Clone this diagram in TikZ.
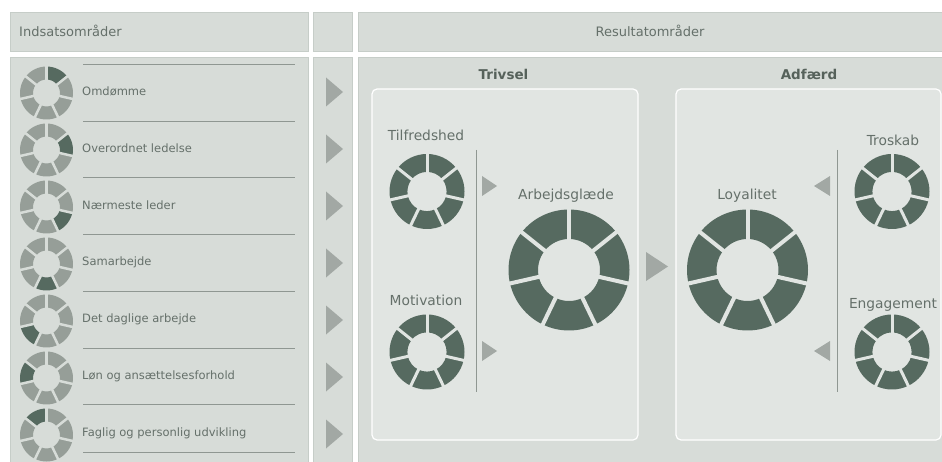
\documentclass[tikz,border=0pt]{standalone}
\usepackage{fontspec}
\setmainfont{DejaVu Sans}

\definecolor{boxfill}{HTML}{D7DCD8}
\definecolor{boxline}{HTML}{C6CDC8}
\definecolor{panelfill}{HTML}{E1E5E2}
\definecolor{ringdark}{HTML}{566A60}
\definecolor{ringlight}{HTML}{969E98}
\definecolor{arrowgray}{HTML}{A2A8A4}
\definecolor{rulegray}{HTML}{8F9792}
\definecolor{textgray}{HTML}{65706A}
\definecolor{titlegray}{HTML}{56625B}

% ring of 7 segments: centre, outer r, inner r, dark segment (0 = all), gap colour, gap width
\newcommand{\segring}[6]{%
	\foreach \i in {1,...,7}{
		\pgfmathsetmacro{\aa}{90-(\i-1)*360/7}
		\pgfmathsetmacro{\ab}{90-\i*360/7}
		\ifnum#4=0 \def\segcol{ringdark}\else\ifnum\i=#4 \def\segcol{ringdark}\else\def\segcol{ringlight}\fi\fi
		\fill[\segcol,shift={(#1)}] (\aa:#2) arc[start angle=\aa,end angle=\ab,radius=#2] -- (\ab:#3) arc[start angle=\ab,end angle=\aa,radius=#3] -- cycle;
	}
	\foreach \i in {1,...,7}{
		\pgfmathsetmacro{\aa}{90-(\i-1)*360/7}
		\draw[#5,line width=#6,shift={(#1)}] (0,0) -- (\aa:#2+1);
	}
}
% triangle at a coordinate: name, half width (negative points left), half height
\newcommand{\rarrow}[3]{%
	\fill[arrowgray] (#1) ++(-#2,#3) -- ++(2*#2,-#3) -- ++(-2*#2,-#3) -- cycle;
}

\begin{document}
\begin{tikzpicture}[x=1pt,y=1pt,
	box/.style={fill=boxfill,draw=boxline,line width=1pt},
	panel/.style={fill=panelfill,draw=white,line width=1.2pt,rounded corners=5pt},
	lbl/.style={text=textgray,font=\fontsize{11.5}{13}\selectfont,anchor=west,inner sep=0pt},
	ttl/.style={text=textgray,font=\fontsize{13.8}{16}\selectfont,inner sep=0pt},
	hdr/.style={text=textgray,font=\fontsize{13}{15}\selectfont,inner sep=0pt},
	grp/.style={text=titlegray,font=\bfseries\fontsize{13.5}{16}\selectfont,inner sep=0pt},
	rule/.style={draw=rulegray,line width=0.8pt}]

	\useasboundingbox (0,0) rectangle (942,461);
	\fill[white] (0,0) rectangle (942,461);

	% header row
	\draw[box] (10.5,409) rectangle (308.5,448.5);
	\draw[box] (313.5,409) rectangle (352.5,448.5);
	\draw[box] (358.5,409) rectangle (945,448.5);
	\node[hdr,anchor=west](hin) at (19,430) {Indsatsområder};
	\node[hdr](hres) at (650,430) {Resultatområder};

	% body row
	\draw[box] (10.5,-5) rectangle (308.5,403.5);
	\draw[box] (313.5,-5) rectangle (352.5,403.5);
	\draw[box] (358.5,-5) rectangle (945,403.5);

	% left column
	\draw[rule] (83,397) -- (295,397);
	\draw[rule] (83,340) -- (295,340);
	\draw[rule] (83,284) -- (295,284);
	\draw[rule] (83,227) -- (295,227);
	\draw[rule] (83,170) -- (295,170);
	\draw[rule] (83,113) -- (295,113);
	\draw[rule] (83,57) -- (295,57);
	\draw[rule] (83,9) -- (295,9);

	\coordinate (r1) at (46.5,368);
	\coordinate (r2) at (46.5,311);
	\coordinate (r3) at (46.5,254);
	\coordinate (r4) at (46.5,197);
	\coordinate (r5) at (46.5,140);
	\coordinate (r6) at (46.5,83);
	\coordinate (r7) at (46.5,26);
	\segring{r1}{26.5}{13.5}{1}{boxfill}{2.5pt}
	\segring{r2}{26.5}{13.5}{2}{boxfill}{2.5pt}
	\segring{r3}{26.5}{13.5}{3}{boxfill}{2.5pt}
	\segring{r4}{26.5}{13.5}{4}{boxfill}{2.5pt}
	\segring{r5}{26.5}{13.5}{5}{boxfill}{2.5pt}
	\segring{r6}{26.5}{13.5}{6}{boxfill}{2.5pt}
	\segring{r7}{26.5}{13.5}{7}{boxfill}{2.5pt}

	\node[lbl](l1) at (82,370) {Omdømme};
	\node[lbl](l2) at (82,313) {Overordnet ledelse};
	\node[lbl](l3) at (82,256) {Nærmeste leder};
	\node[lbl](l4) at (82,199) {Samarbejde};
	\node[lbl](l5) at (82,142) {Det daglige arbejde};
	\node[lbl](l6) at (82,85) {Løn og ansættelsesforhold};
	\node[lbl](l7) at (82,28) {Faglig og personlig udvikling};

	% middle column
	\coordinate (a1) at (334.5,369);
	\coordinate (a2) at (334.5,312);
	\coordinate (a3) at (334.5,255);
	\coordinate (a4) at (334.5,198);
	\coordinate (a5) at (334.5,141);
	\coordinate (a6) at (334.5,84);
	\coordinate (a7) at (334.5,27);
	\rarrow{a1}{8.5}{14.5}
	\rarrow{a2}{8.5}{14.5}
	\rarrow{a3}{8.5}{14.5}
	\rarrow{a4}{8.5}{14.5}
	\rarrow{a5}{8.5}{14.5}
	\rarrow{a6}{8.5}{14.5}
	\rarrow{a7}{8.5}{14.5}

	% Trivsel
	\node[grp](triv) at (503.5,386.5) {Trivsel};
	\draw[panel] (372,21) rectangle (638,372);
	\node[ttl](tilf) at (426,325.5) {Tilfredshed};
	\coordinate (tilfr) at (427,269.5);
	\segring{tilfr}{37.5}{19.6}{0}{panelfill}{3pt}
	\node[ttl](moti) at (426,161) {Motivation};
	\coordinate (motir) at (427,109);
	\segring{motir}{37.5}{19.6}{0}{panelfill}{3pt}
	\draw[rule] (476,311) -- (476,69);
	\coordinate (ta1) at (489.5,275);
	\coordinate (ta2) at (489.5,110);
	\rarrow{ta1}{7.5}{10}
	\rarrow{ta2}{7.5}{10}
	\node[ttl](arb) at (566,265.5) {Arbejdsglæde};
	\coordinate (arbr) at (569,191);
	\segring{arbr}{60.5}{31}{0}{panelfill}{4pt}

	\coordinate (mid) at (657,194.5);
	\rarrow{mid}{11}{14.5}

	% Adfærd
	\node[grp](adf) at (809,386.5) {Adfærd};
	\draw[panel] (676,21) rectangle (941,372);
	\node[ttl](loy) at (747,265.5) {Loyalitet};
	\coordinate (loyr) at (747.5,191);
	\segring{loyr}{60.5}{31}{0}{panelfill}{4pt}
	\draw[rule] (837,311) -- (837,69);
	\coordinate (aa1) at (822,275);
	\coordinate (aa2) at (822,110);
	\rarrow{aa1}{-8}{10}
	\rarrow{aa2}{-8}{10}
	\node[ttl](tros) at (893,321) {Troskab};
	\coordinate (trosr) at (892,269.5);
	\segring{trosr}{37.5}{19.6}{0}{panelfill}{3pt}
	\node[ttl](eng) at (893,156.5) {Engagement};
	\coordinate (engr) at (892,109);
	\segring{engr}{37.5}{19.6}{0}{panelfill}{3pt}
\end{tikzpicture}
\end{document}
